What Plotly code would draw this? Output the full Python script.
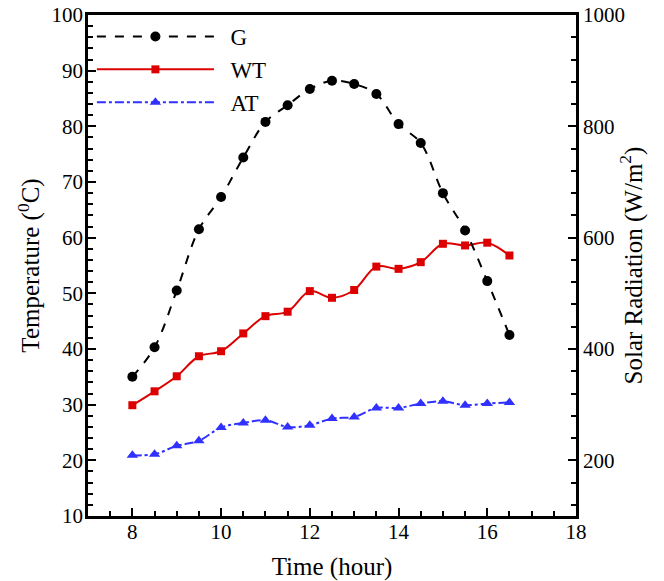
import plotly.graph_objects as go

hours = [8, 8.5, 9, 9.5, 10, 10.5, 11, 11.5, 12, 12.5, 13, 13.5, 14, 14.5, 15, 15.5, 16, 16.5]
solar_g = [350, 403, 505, 615, 673, 744, 808, 838, 867, 882, 876, 858, 804, 770, 680, 613, 522, 425]
water_t = [29.9, 32.4, 35.1, 38.7, 39.6, 42.8, 45.9, 46.7, 50.4, 49.2, 50.6, 54.8, 54.4, 55.6, 58.9, 58.6, 59.1, 56.8]
air_t = [20.9, 21.1, 22.6, 23.5, 25.9, 26.7, 27.2, 26.0, 26.3, 27.5, 27.8, 29.4, 29.4, 30.2, 30.6, 29.9, 30.2, 30.4]

serif = "Liberation Serif, Times New Roman, serif"
tick_font = dict(family=serif, size=21, color="black")
title_font = dict(family=serif, size=25, color="black")
legend_font = dict(family=serif, size=23, color="black")

fig = go.Figure()
fig.add_trace(go.Scatter(x=hours, y=solar_g, name="&nbsp;&nbsp;G", yaxis="y2", mode="lines+markers",
                         line=dict(color="black", dash="dash", width=2, shape="spline"),
                         marker=dict(symbol="circle", size=10, color="black")))
fig.add_trace(go.Scatter(x=hours, y=water_t, name="&nbsp;&nbsp;WT", mode="lines+markers",
                         line=dict(color="#dd0000", width=2, shape="spline"),
                         marker=dict(symbol="square", size=8, color="#dd0000")))
fig.add_trace(go.Scatter(x=hours, y=air_t, name="&nbsp;&nbsp;AT", mode="lines+markers",
                         line=dict(color="#3030ff", dash="dashdot", width=2, shape="spline"),
                         marker=dict(symbol="triangle-up", size=10, color="#3030ff")))

ax = dict(showgrid=False, zeroline=False, showline=True, linecolor="black", linewidth=2.5,
          automargin=False, ticks="inside", ticklen=8, tickwidth=2, tickcolor="black",
          tickfont=tick_font, ticklabeloverflow="allow")
minor = dict(ticks="inside", ticklen=5, tickwidth=1.5, tickcolor="black")

# page body adds an 8px margin, so the figure is a bit smaller than the window
fig.update_layout(
    width=648, height=573,
    margin=dict(l=80, r=80, t=7, b=65),
    plot_bgcolor="white", paper_bgcolor="white",
    font=tick_font,
    xaxis=dict(ax, range=[7, 18], dtick=2, tick0=8, mirror=True, ticklabelstandoff=-5,
               minor=dict(minor, dtick=0.5, tick0=7),
               title=dict(text="Time (hour)", font=title_font, standoff=17)),
    yaxis=dict(ax, range=[10, 100], dtick=10, ticklabelstandoff=-2,
               minor=dict(minor, dtick=2),
               title=dict(text="Temperature (<sup>0</sup>C)", font=title_font, standoff=5)),
    yaxis2=dict(ax, range=[100, 1000], dtick=200, tick0=200, overlaying="y", side="right",
                ticklabelstandoff=0, minor=dict(minor, dtick=40, tick0=0),
                title=dict(text="Solar Radiation (W/m<sup>2</sup>)", font=title_font, standoff=1)),
    legend=dict(x=0.008, y=1.0, xanchor="left", yanchor="top", bgcolor="rgba(0,0,0,0)",
                font=legend_font, itemwidth=117, tracegroupgap=0),
    showlegend=True,
)

fig.write_html("out.html")
